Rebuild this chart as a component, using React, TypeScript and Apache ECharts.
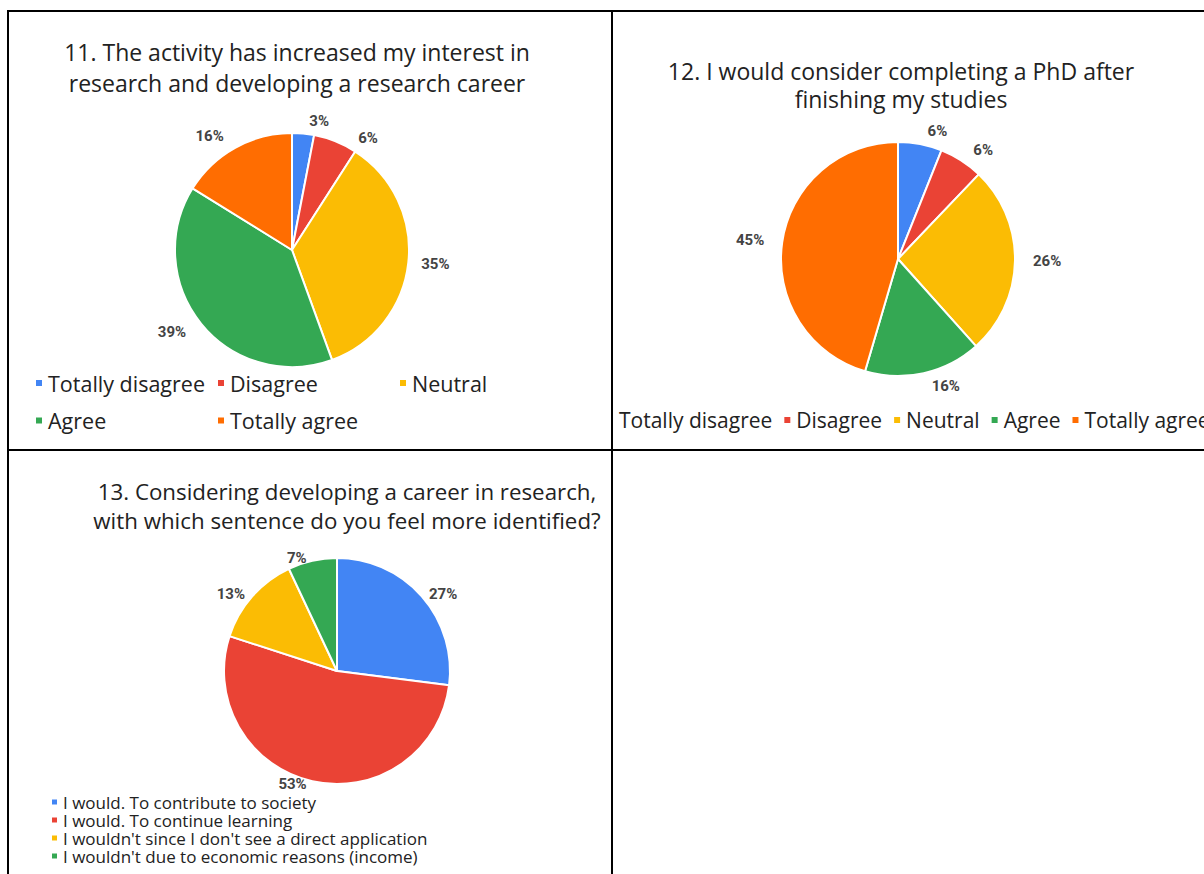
import React, { useEffect, useRef } from "react";
import * as echarts from "echarts";

const COLORS = ["#4285F4", "#EA4335", "#FBBC04", "#34A853", "#FF6D01"];

const agreeCategories = ["Totally disagree", "Disagree", "Neutral", "Agree", "Totally agree"];
const q11Values = [3, 6, 35, 39, 16];
const q12Values = [6, 6, 26, 16, 45];
const q13Categories = [
  "I would. To contribute to society",
  "I would. To continue learning",
  "I wouldn't since I don't see a direct application",
  "I wouldn't due to economic reasons (income)",
];
const q13Values = [27, 53, 13, 7];

const q11Title = "11. The activity has increased my interest in\nresearch and developing a research career";
const q12Title = "12. I would consider completing a PhD after\nfinishing my studies";
const q13Title = "13. Considering developing a career in research,\nwith which sentence do you feel more identified?";

const FONT = "Open Sans";

const pieLabel = {
  show: true,
  position: "outside",
  formatter: "{c}%",
  color: "#444",
  fontWeight: "bold",
  fontSize: 15,
  fontFamily: "Roboto",
};

function makePie(name: string, cats: string[], vals: number[], center: number[], r: number, lineLen: number) {
  return {
    type: "pie",
    name,
    center,
    radius: r,
    startAngle: 90,
    clockwise: true,
    data: cats.map((c, i) => ({ name: c, value: vals[i], itemStyle: { color: COLORS[i] } })),
    itemStyle: { borderColor: "#fff", borderWidth: 2 },
    label: pieLabel,
    labelLine: { show: false, length: lineLen, length2: 0 },
    emphasis: { disabled: true },
  };
}

export default function App() {
  const ref = useRef<HTMLDivElement>(null);
  useEffect(() => {
    const chart = echarts.init(ref.current!, null, { renderer: "svg" });
    const titleStyle = { fontFamily: FONT, fontSize: 23, fontWeight: "normal", color: "#222" };
    const legendBase = {
      icon: "rect",
      itemWidth: 8,
      itemHeight: 8,
      padding: 0,
      selectedMode: false,
      textStyle: { fontFamily: FONT, fontSize: 21.5, color: "#222" },
    };
    chart.setOption({
      animation: false,
      backgroundColor: "#fff",
      title: [
        { text: q11Title, left: 297, top: 36, textAlign: "center", padding: 0, textStyle: { ...titleStyle, lineHeight: 31, align: "center" } },
        { text: q12Title, left: 901, top: 57, textAlign: "center", padding: 0, textStyle: { ...titleStyle, lineHeight: 28, align: "center" } },
        { text: q13Title, left: 347, top: 477, textAlign: "center", padding: 0, textStyle: { ...titleStyle, fontSize: 22.3, lineHeight: 29, align: "center" } },
      ],
      legend: [
        { ...legendBase, orient: "vertical", left: 34, top: 372, itemGap: 15.5, data: [agreeCategories[0], agreeCategories[3]] },
        { ...legendBase, orient: "vertical", left: 216, top: 372, itemGap: 15.5, data: [agreeCategories[1], agreeCategories[4]] },
        { ...legendBase, orient: "vertical", left: 398, top: 372, itemGap: 15.5, data: [agreeCategories[2]] },
        {
          ...legendBase,
          orient: "horizontal",
          left: 606,
          top: 409.5,
          width: 900,
          itemGap: 10,
          textStyle: { fontFamily: FONT, fontSize: 21, color: "#222" },
          data: [{ name: agreeCategories[0], icon: "none" }, ...agreeCategories.slice(1)],
        },
        {
          ...legendBase,
          orient: "vertical",
          left: 50,
          top: 793.5,
          itemWidth: 7,
          itemHeight: 7,
          itemGap: 1,
          textStyle: { fontFamily: FONT, fontSize: 17, color: "#222" },
          data: q13Categories,
        },
      ],
      series: [
        makePie("q11", agreeCategories, q11Values, [292, 250], 117, 13),
        makePie("q12", agreeCategories, q12Values, [898, 259], 117, 13),
        makePie("q13", q13Categories, q13Values, [337, 671], 113, 3),
      ],
      graphic: [
        { type: "line", shape: { x1: 7, y1: 11, x2: 1204, y2: 11 }, style: { stroke: "#000", lineWidth: 2 } },
        { type: "line", shape: { x1: 8, y1: 10, x2: 8, y2: 874 }, style: { stroke: "#000", lineWidth: 2 } },
        { type: "line", shape: { x1: 612, y1: 10, x2: 612, y2: 874 }, style: { stroke: "#000", lineWidth: 2 } },
        { type: "line", shape: { x1: 7, y1: 450, x2: 1204, y2: 450 }, style: { stroke: "#000", lineWidth: 2 } },
      ],
    });
    return () => chart.dispose();
  }, []);
  return <div ref={ref} style={{ position: "fixed", left: 0, top: 0, width: 1204, height: 874 }} />;
}
